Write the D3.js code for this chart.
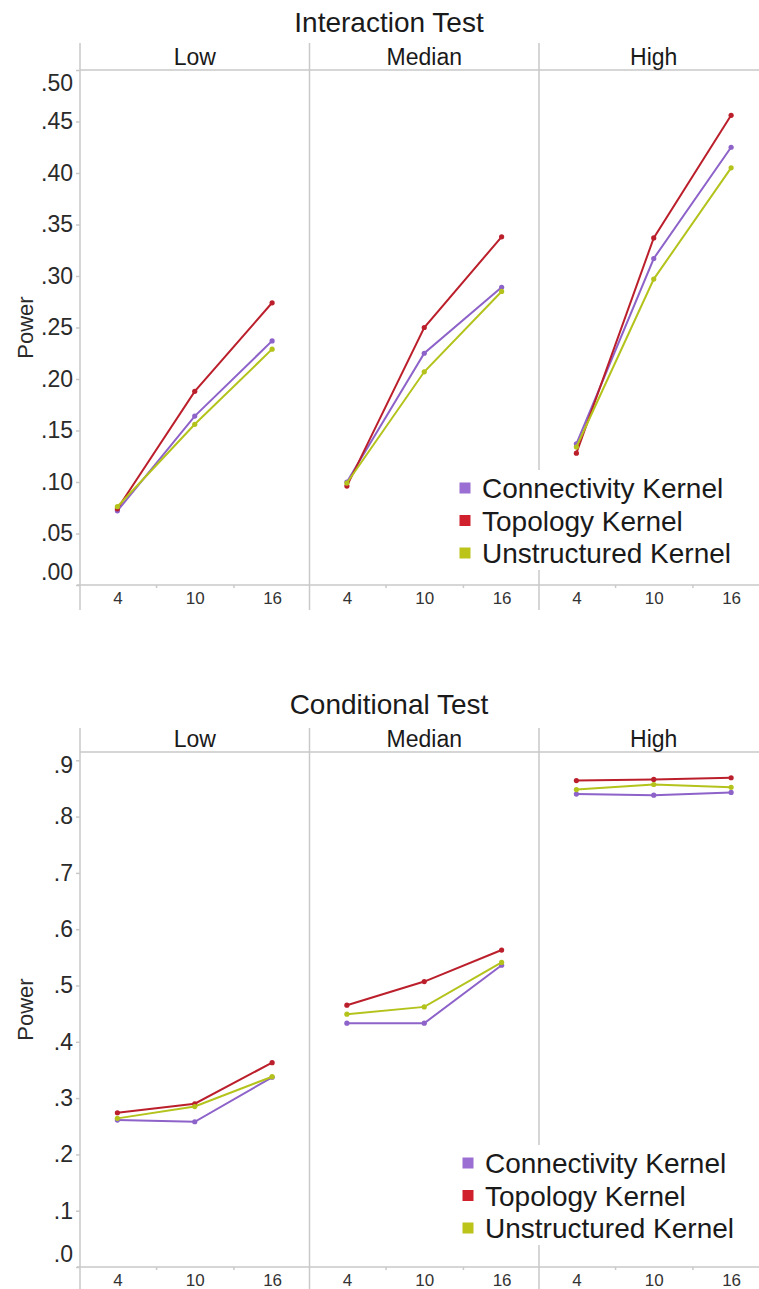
<!DOCTYPE html>
<html>
<head>
<meta charset="utf-8">
<script src="https://cdnjs.cloudflare.com/ajax/libs/d3/7.8.5/d3.min.js"></script>
<style>
  body { margin: 0; background: #fff; }
  svg { display: block; font-family: "Liberation Sans", Arial, sans-serif; }
</style>
</head>
<body>
<div id="chart"></div>
<script>
// data (Power by group size, per level)
const xValues = [4, 10, 16];
const panelNames = ["Low", "Median", "High"];
const seriesNames = ["Connectivity Kernel", "Topology Kernel", "Unstructured Kernel"];
const seriesColors = ["#8d62c9", "#bb1f2b", "#b4c31c"];
const legendColors = ["#9a6ed2", "#d0202e", "#bcc41a"];

// interaction test, one row per panel (Low, Median, High)
const interactionConnectivity = [[0.072, 0.164, 0.237], [0.100, 0.225, 0.289], [0.137, 0.317, 0.425]];
const interactionTopology = [[0.074, 0.188, 0.274], [0.096, 0.250, 0.338], [0.128, 0.337, 0.456]];
const interactionUnstructured = [[0.076, 0.156, 0.229], [0.099, 0.207, 0.285], [0.134, 0.297, 0.405]];
const interactionTicks = [0, 0.05, 0.10, 0.15, 0.20, 0.25, 0.30, 0.35, 0.40, 0.45, 0.50];

// conditional test
const conditionalConnectivity = [[0.261, 0.258, 0.337], [0.433, 0.433, 0.536], [0.840, 0.838, 0.843]];
const conditionalTopology = [[0.274, 0.290, 0.363], [0.465, 0.507, 0.563], [0.864, 0.866, 0.869]];
const conditionalUnstructured = [[0.264, 0.285, 0.338], [0.449, 0.462, 0.541], [0.848, 0.857, 0.852]];
const conditionalTicks = [0, 0.1, 0.2, 0.3, 0.4, 0.5, 0.6, 0.7, 0.8, 0.9];

const svgWidth = 759;
const svgHeight = 1289;

const svg = d3.select("#chart")
    .append("svg")
    .attr("width", svgWidth)
    .attr("height", svgHeight);

const gridColor = "#c9c9c9";
const plotLeft = 80;
const panelWidth = 229.5;

// x scale inside one panel
const xPanel = d3.scaleLinear()
    .domain([1.1, 18.9])
    .range([0, panelWidth]);

function drawChart(opts) {
    const g = svg.append("g");
    const y = d3.scaleLinear()
        .domain([0, opts.yMax])
        .range([opts.bottom, opts.topTick]);

    // title
    g.append("text")
        .attr("x", 389)
        .attr("y", opts.titleY)
        .attr("text-anchor", "middle")
        .attr("font-size", 28)
        .attr("fill", "#1a1a1a")
        .text(opts.title);

    // header line + x axis line
    g.append("line")
        .attr("x1", plotLeft).attr("x2", svgWidth)
        .attr("y1", opts.header).attr("y2", opts.header)
        .attr("stroke", gridColor).attr("stroke-width", 1.5);
    g.append("line")
        .attr("x1", plotLeft - 3).attr("x2", svgWidth)
        .attr("y1", opts.bottom).attr("y2", opts.bottom)
        .attr("stroke", gridColor).attr("stroke-width", 1.5);

    // y axis
    const yAxis = g.append("g")
        .attr("transform", `translate(${plotLeft}, 0)`)
        .call(d3.axisLeft(y)
            .tickValues(opts.ticks)
            .tickSize(4)
            .tickPadding(3)
            .tickFormat(d => d3.format(opts.fmt)(d).replace(/^0/, "")));
    yAxis.select(".domain").remove();
    yAxis.selectAll(".tick line").attr("stroke", gridColor).attr("stroke-width", 1.5);
    yAxis.selectAll(".tick text")
        .attr("font-size", 23)
        .attr("fill", "#2a2a2a")
        .attr("font-family", "Liberation Sans, Arial, sans-serif")
        .attr("y", d => {
            const p = y(d);
            if (p - opts.header < 13) return opts.header + 13 - p;
            if (opts.bottom - p < 13) return opts.bottom - 13 - p;
            return 0;
        });

    // y label
    g.append("text")
        .attr("transform", `translate(33, ${(opts.header + opts.bottom) / 2}) rotate(-90)`)
        .attr("text-anchor", "middle")
        .attr("font-size", 22)
        .attr("fill", "#2a2a2a")
        .text("Power");

    const allSeries = [opts.connectivity, opts.topology, opts.unstructured];

    panelNames.forEach((name, i) => {
        const left = plotLeft + i * panelWidth;

        // vertical panel border
        g.append("line")
            .attr("x1", left).attr("x2", left)
            .attr("y1", opts.lineTop).attr("y2", opts.lineBottom)
            .attr("stroke", gridColor).attr("stroke-width", 1.5);

        g.append("text")
            .attr("x", left + panelWidth / 2)
            .attr("y", opts.header - 5)
            .attr("text-anchor", "middle")
            .attr("font-size", 23)
            .attr("fill", "#1a1a1a")
            .text(name);

        const panel = g.append("g").attr("transform", `translate(${left}, 0)`);

        // x axis labels
        const xAxis = panel.append("g")
            .attr("transform", `translate(0, ${opts.bottom})`)
            .call(d3.axisBottom(xPanel).tickValues(xValues).tickSize(0).tickPadding(7));
        xAxis.select(".domain").remove();
        xAxis.selectAll(".tick text")
            .attr("font-size", 17)
            .attr("fill", "#333")
            .attr("font-family", "Liberation Sans, Arial, sans-serif");

        const minor = panel.append("g")
            .attr("transform", `translate(0, ${opts.bottom})`)
            .call(d3.axisBottom(xPanel).tickValues([7, 13]).tickSize(3).tickFormat(""));
        minor.select(".domain").remove();
        minor.selectAll(".tick line").attr("stroke", gridColor).attr("stroke-width", 1.5);

        const line = d3.line()
            .x((d, j) => xPanel(xValues[j]))
            .y(d => y(d));

        allSeries.forEach((s, k) => {
            panel.append("path")
                .datum(s[i])
                .attr("d", line)
                .attr("fill", "none")
                .attr("stroke", seriesColors[k])
                .attr("stroke-width", 2);
            panel.selectAll(null)
                .data(s[i])
                .enter()
                .append("circle")
                .attr("cx", (d, j) => xPanel(xValues[j]))
                .attr("cy", d => y(d))
                .attr("r", 2.6)
                .attr("fill", seriesColors[k]);
        });
    });

    // legend with white backing over the divider
    const legend = g.append("g")
        .attr("transform", `translate(${opts.legendX}, ${opts.legendY})`);
    legend.append("rect")
        .attr("x", -14).attr("y", -18)
        .attr("width", 290).attr("height", 100)
        .attr("fill", "#fff");
    seriesNames.forEach((name, k) => {
        const row = legend.append("g").attr("transform", `translate(0, ${k * 32.5})`);
        row.append("rect")
            .attr("x", -5.5).attr("y", -5.5)
            .attr("width", 11).attr("height", 11)
            .attr("fill", legendColors[k]);
        row.append("text")
            .attr("x", 17)
            .attr("y", 10)
            .attr("font-size", 28)
            .attr("fill", "#1a1a1a")
            .text(name);
    });
}

drawChart({
    title: "Interaction Test",
    titleY: 32,
    header: 70,
    topTick: 70,
    bottom: 585,
    yMax: 0.5,
    ticks: interactionTicks,
    fmt: ".2f",
    lineTop: 43,
    lineBottom: 610,
    connectivity: interactionConnectivity,
    topology: interactionTopology,
    unstructured: interactionUnstructured,
    legendX: 465,
    legendY: 488
});

drawChart({
    title: "Conditional Test",
    titleY: 714,
    header: 752,
    topTick: 760.3,
    bottom: 1267,
    yMax: 0.9,
    ticks: conditionalTicks,
    fmt: ".1f",
    lineTop: 728,
    lineBottom: 1289,
    connectivity: conditionalConnectivity,
    topology: conditionalTopology,
    unstructured: conditionalUnstructured,
    legendX: 468,
    legendY: 1163
});
</script>
</body>
</html>
